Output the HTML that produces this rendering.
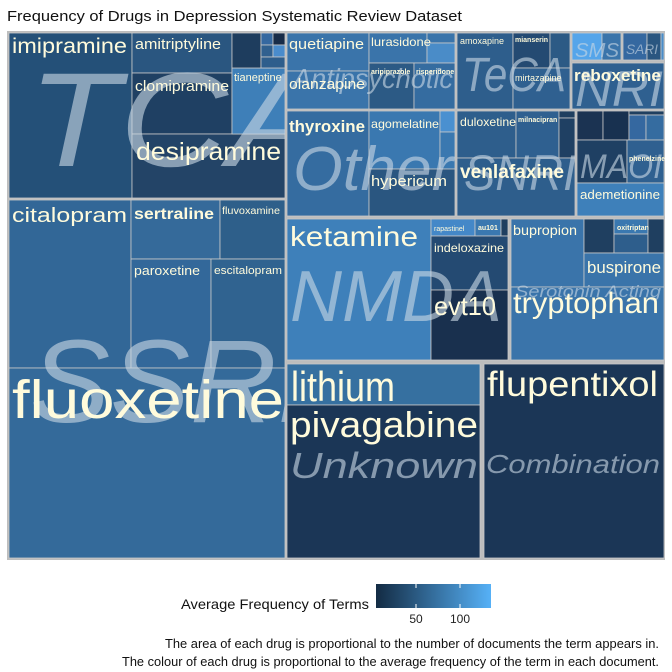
<!DOCTYPE html>
<html><head><meta charset="utf-8">
<style>
html,body{margin:0;padding:0;background:#fff;}
svg{display:block;font-family:"Liberation Sans",sans-serif;}
</style></head>
<body>
<svg id="chart" width="672" height="672" viewBox="0 0 672 672">
<text x="7" y="21" font-size="14.5" fill="#111" textLength="455" lengthAdjust="spacingAndGlyphs">Frequency of Drugs in Depression Systematic Review Dataset</text>
<rect x="7" y="31" width="658" height="529" fill="#bdbdbd"/>
<g id="tiles"></g>
<g id="glabels"></g>
<g id="dlabels"></g>
<defs>
<linearGradient id="lg" x1="0" x2="1" y1="0" y2="0"><stop offset="0" stop-color="#132b43"/><stop offset="1" stop-color="#56b1f7"/></linearGradient>
</defs>
<text x="181" y="609" font-size="14" fill="#111" textLength="188" lengthAdjust="spacingAndGlyphs">Average Frequency of Terms</text>
<rect x="376" y="584" width="115" height="24" fill="url(#lg)"/>
<line x1="416" x2="416" y1="584" y2="588" stroke="#fff"/>
<line x1="416" x2="416" y1="604" y2="608" stroke="#fff"/>
<line x1="460" x2="460" y1="584" y2="588" stroke="#fff"/>
<line x1="460" x2="460" y1="604" y2="608" stroke="#fff"/>
<text x="416" y="623" font-size="12" text-anchor="middle" fill="#222">50</text>
<text x="460" y="623" font-size="12" text-anchor="middle" fill="#222">100</text>
<text x="165" y="648" font-size="13" fill="#111" textLength="494" lengthAdjust="spacingAndGlyphs">The area of each drug is proportional to the number of documents the term appears in.</text>
<text x="122" y="666" font-size="13" fill="#111" textLength="537" lengthAdjust="spacingAndGlyphs">The colour of each drug is proportional to the average frequency of the term in each document.</text>
</svg>
<script>
const tileNames = ["imipramine","amitriptyline","clomipramine","desipramine","tianeptine","tca-a","tca-b","tca-c","tca-d","tca-e","tca-f",
"citalopram","sertraline","fluvoxamine","paroxetine","escitalopram","fluoxetine",
"quetiapine","olanzapine","lurasidone","ap-a","ap-b","aripiprazole","risperidone",
"amoxapine","mianserin","teca-a","mirtazapine","sms-a","sms-b","sari-a","sari-b","sliver","reboxetine",
"thyroxine","agomelatine","oth-a","oth-b","hypericum",
"duloxetine","milnacipran","snri-a","snri-b","venlafaxine",
"maoi-a","maoi-b","maoi-c","maoi-d","maoi-e","maoi-f","phenelzine","ademetionine",
"ketamine","rapastinel","au101","nmda-a","indeloxazine","evt10",
"bupropion","sa-a","oxitriptan","sa-b","sa-c","buspirone","tryptophan",
"lithium","pivagabine","flupentixol"];
const tileRects = [[9,33,131,197],[132,33,231,72],[132,73,231,133],[132,134,284,197],[232,68,284,133],[232,33,260,67],[261,33,272,44],[273,33,284,44],[261,45,272,56],[273,45,284,56],[261,57,284,67],
[9,200,130,367],[131,200,219,258],[220,200,284,258],[131,259,210,367],[211,259,284,367],[9,368,284,557],
[287,33,368,70],[287,71,368,108],[369,33,426,62],[427,33,454,42],[427,43,454,62],[369,63,413,108],[414,63,454,108],
[457,33,512,108],[513,33,549,67],[550,33,569,67],[513,68,569,108],[572,33,601,59],[602,33,620,59],[623,33,646,59],[647,33,660,59],[661,33,663,59],[572,63,663,108],
[287,111,368,215],[369,111,439,168],[440,111,454,131],[440,132,454,168],[369,169,454,215],
[457,111,515,157],[516,111,558,157],[559,111,574,117],[559,118,574,157],[457,158,574,215],
[577,111,602,139],[603,111,628,139],[629,111,663,114],[629,115,645,139],[646,115,663,139],[577,140,626,182],[627,140,663,182],[577,183,663,215],
[287,219,430,359],[431,219,474,235],[475,219,500,235],[501,219,507,235],[431,236,507,289],[431,290,507,359],
[511,219,583,286],[584,219,613,252],[614,219,647,233],[614,234,647,252],[648,219,663,252],[584,253,663,286],[511,287,663,359],
[287,364,479,404],[287,405,479,557],[484,364,663,557]];
const tileColors = ["#245078","#2a5680","#1f4063","#234467","#3e7fb8","#1e3d5e","#3568a0","#182c48","#30608f","#4a8ccc","#2e5e8c",
"#326797","#356a9a","#2e5f8a","#33689a","#306390","#346a9a",
"#3a74aa","#3a74aa","#3a74aa","#3a74aa","#4a8cc8","#2c5a85","#356ca0",
"#2e5e8c","#244a72","#2c5a85","#2f6090","#55a5ea","#3a74aa","#3568a0","#2a5680","#4a8cc8","#2f6090",
"#356ca0","#3a78b0","#4a90d0","#3a78b0","#2a5680",
"#2e5e8c","#2f6090","#1f3f60","#1f4063","#2e5e8c",
"#1b3352","#183150","#1f3f60","#3568a0","#356ca0","#1f4063","#2f6090","#3e80ba",
"#3e80ba","#4488c8","#3a78b0","#1f3f60","#244a72","#19304e",
"#3a74aa","#1f3f60","#3a78b0","#2e5e8c","#1f3f60","#3a74aa","#3a74aa",
"#3670a0","#1b3656","#1b3656"];
const groupLabels = [["TCA",28,166,134,300,9,33,284,197],["SSRI",30,422,118,280,9,200,284,557],["Antipsychotic",293,88,28,160,287,33,454,108],
["TeCA",462,91,48,104,457,33,569,108],["SMS",575,57,20,44,572,33,620,59],["SARI",626,54,14,32,623,33,660,59],["NRI",575,106,50,88,572,63,663,108],
["Other",293,190,62,160,287,111,454,215],["SNRI",464,190,50,112,457,111,574,215],["MAOI",580,178,34,82,577,111,663,215],
["NMDA",290,321,72,212,287,219,507,359],["Serotonin Acting",515,297,17,146,511,219,663,359],["Unknown",290,478,36,188,287,364,479,557],["Combination",486,473,26,174,484,364,663,557]];
const drugLabels = [["imipramine",12,53,21,0,115],["amitriptyline",135,49,15,0,86],["clomipramine",135,91,15,0,94],["desipramine",136,160,25,0,145],["tianeptine",234,81,11,0,0],
["citalopram",12,222,20,0,115],["sertraline",134,219,16,1,80],["fluvoxamine",222,214,10,0,58],["paroxetine",134,275,13,0,66],["escitalopram",214,274,11,0,68],["fluoxetine",12,418,54,0,272],
["quetiapine",289,49,15,0,75],["olanzapine",289,89,15,0,76],["lurasidone",371,46,12,0,60],["aripiprazole",371,74,7,1,0],["risperidone",416,74,7,1,0],
["amoxapine",460,44,9,0,0],["mianserin",515,42,7,1,0],["mirtazapine",515,81,9,0,0],["reboxetine",574,81,17,1,87],
["thyroxine",289,132,17,1,76],["agomelatine",371,128,12,0,68],["hypericum",371,186,15,0,76],
["duloxetine",460,126,12,0,56],["milnacipran",518,122,7,1,0],["venlafaxine",460,178,19,1,104],["phenelzine",629,161,7,1,0],["ademetionine",580,199,13,0,80],
["ketamine",290,246,28,0,128],["rapastinel",434,231,7,0,0],["au101",478,230,7,1,0],["indeloxazine",434,252,12,0,70],["evt10",434,315,26,0,62],
["bupropion",513,235,14,0,64],["oxitriptan",617,230,7,1,0],["buspirone",587,273,17,0,74],["tryptophan",513,313,30,0,146],
["lithium",291,401,42,0,104],["pivagabine",290,437,36,0,188],["flupentixol",487,396,35,0,171]];
const NS="http://www.w3.org/2000/svg";
const tg=document.getElementById('tiles'), gg=document.getElementById('glabels'), dg=document.getElementById('dlabels');
tileNames.forEach((n,i)=>{
  const r=tileRects[i], el=document.createElementNS(NS,'rect');
  el.setAttribute('x',r[0]);el.setAttribute('y',r[1]);
  el.setAttribute('width',r[2]-r[0]+1);el.setAttribute('height',r[3]-r[1]+1);
  el.setAttribute('fill',tileColors[i]);el.setAttribute('stroke','#c8c8c8');el.setAttribute('stroke-width','0.8');
  
  
  tg.appendChild(el);
});
groupLabels.forEach((g,i)=>{
  const cp=document.createElementNS(NS,'clipPath');cp.setAttribute('id','gc'+i);
  const cr=document.createElementNS(NS,'rect');cr.setAttribute('x',g[5]);cr.setAttribute('y',g[6]);cr.setAttribute('width',g[7]-g[5]+1);cr.setAttribute('height',g[8]-g[6]+1);
  cp.appendChild(cr);gg.appendChild(cp);
  const t=document.createElementNS(NS,'text');
  t.setAttribute('x',g[1]);t.setAttribute('y',g[2]);t.setAttribute('font-size',g[3]);
  t.setAttribute('font-style','italic');t.setAttribute('fill','#c8d6e4');t.setAttribute('fill-opacity','0.62');
  t.setAttribute('textLength',g[4]);t.setAttribute('lengthAdjust','spacingAndGlyphs');
  t.setAttribute('clip-path','url(#gc'+i+')');
  t.textContent=g[0];
  
  
  gg.appendChild(t);
});
drugLabels.forEach(d=>{
  const t=document.createElementNS(NS,'text');
  t.setAttribute('x',d[1]);t.setAttribute('y',d[2]);t.setAttribute('font-size',d[3]);
  if(d[4])t.setAttribute('font-weight','bold');
  if(d[5]){t.setAttribute('textLength',d[5]);t.setAttribute('lengthAdjust','spacingAndGlyphs');}
  t.setAttribute('fill','#fffbdc');
  t.textContent=d[0];
  
  
  dg.appendChild(t);
});
</script>
</body></html>
